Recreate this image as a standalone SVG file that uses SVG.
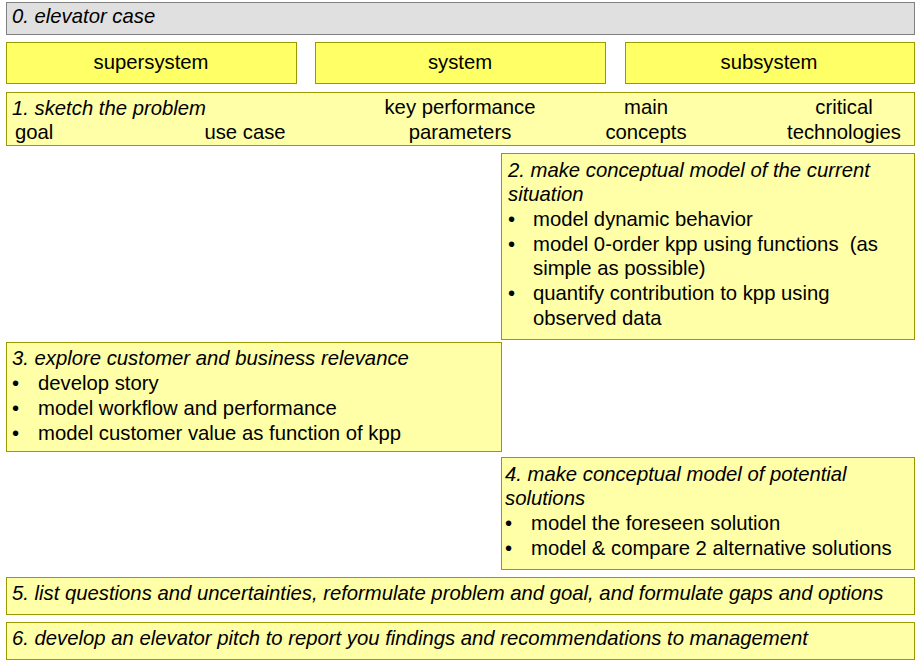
<svg xmlns="http://www.w3.org/2000/svg" width="920" height="660" viewBox="0 0 920 660">
<style>
text{font-family:"Liberation Sans",Arial,sans-serif;font-size:20.3px;fill:#000;white-space:pre}
.i{font-style:italic}
.m{text-anchor:middle}
.g{fill:#e0e0e0;stroke:#808080;stroke-width:1}
.y{fill:#ffff66;stroke:#999900;stroke-width:1}
.l{fill:#ffffa8;stroke:#999900;stroke-width:1}
</style>
<rect width="920" height="660" fill="#fff"/>
<g id="case">
<rect class="g" x="6.5" y="2.5" width="908" height="32"/>
<text class="i" x="12" y="23">0. elevator case</text>
</g>
<g id="supersystem">
<rect class="y" x="6.5" y="42.5" width="290" height="41"/>
<text class="m" x="151" y="69">supersystem</text>
</g>
<g id="system">
<rect class="y" x="315.5" y="42.5" width="290" height="41"/>
<text class="m" x="460" y="69">system</text>
</g>
<g id="subsystem">
<rect class="y" x="625.5" y="42.5" width="289" height="41"/>
<text class="m" x="769" y="69">subsystem</text>
</g>
<g id="step1">
<rect class="l" x="6.5" y="92.5" width="908" height="53"/>
<text class="i" x="12" y="115">1. sketch the problem</text>
<text x="15" y="139">goal</text>
<text class="m" x="245" y="139">use case</text>
<text class="m" x="460" y="114">key performance</text>
<text class="m" x="460" y="139">parameters</text>
<text class="m" x="646" y="114">main</text>
<text class="m" x="646" y="139">concepts</text>
<text class="m" x="844" y="114">critical</text>
<text class="m" x="844" y="139">technologies</text>
</g>
<g id="step2">
<rect class="l" x="501.5" y="153.5" width="413" height="186"/>
<text class="i" x="508" y="177">2. make conceptual model of the current</text>
<text class="i" x="508" y="201">situation</text>
<text x="508" y="226">•</text><text x="533" y="226">model dynamic behavior</text>
<text x="508" y="251">•</text><text x="533" y="251">model 0-order kpp using functions  (as</text>
<text x="533" y="275">simple as possible)</text>
<text x="508" y="300">•</text><text x="533" y="300">quantify contribution to kpp using</text>
<text x="533" y="325">observed data</text>
</g>
<g id="step3">
<rect class="l" x="6.5" y="342.5" width="495" height="109"/>
<text class="i" x="12" y="365">3. explore customer and business relevance</text>
<text x="12" y="390">•</text><text x="38" y="390">develop story</text>
<text x="12" y="415">•</text><text x="38" y="415">model workflow and performance</text>
<text x="12" y="440">•</text><text x="38" y="440">model customer value as function of kpp</text>
</g>
<g id="step4">
<rect class="l" x="501.5" y="457.5" width="413" height="112"/>
<text class="i" x="505" y="481">4. make conceptual model of potential</text>
<text class="i" x="505" y="505">solutions</text>
<text x="505" y="530">•</text><text x="531" y="530">model the foreseen solution</text>
<text x="505" y="555">•</text><text x="531" y="555">model &amp; compare 2 alternative solutions</text>
</g>
<g id="step5">
<rect class="l" x="6.5" y="577.5" width="908" height="37"/>
<text class="i" x="12" y="600">5. list questions and uncertainties, reformulate problem and goal, and formulate gaps and options</text>
</g>
<g id="step6">
<rect class="l" x="6.5" y="622.5" width="908" height="37"/>
<text class="i" x="12" y="645">6. develop an elevator pitch to report you findings and recommendations to management</text>
</g>
<g id="connectors"/>
</svg>
